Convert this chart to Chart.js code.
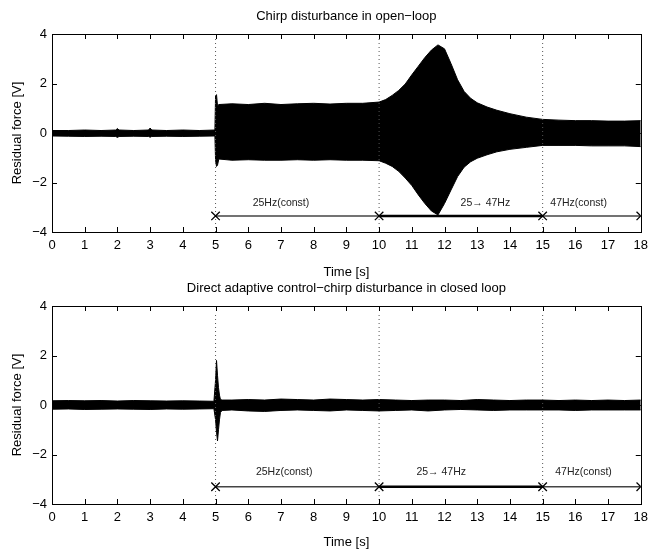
<!DOCTYPE html>
<html>
<head>
<meta charset="utf-8">
<script src="https://cdn.jsdelivr.net/npm/chart.js@4.4.1/dist/chart.umd.min.js"></script>
<style>
  body { margin: 0; background: #fff; }
  canvas { display: block; }
</style>
</head>
<body>
<canvas id="topChart" width="654" height="280"></canvas>
<canvas id="botChart" width="654" height="270"></canvas>
<script>
// envelope of the residual force signal
const tTop = [0, 0.5, 1, 1.5, 1.95, 2.0, 2.05, 2.5, 2.95, 3.0, 3.05, 3.5, 4, 4.5, 4.98, 5.0, 5.03, 5.06, 5.1, 5.5,
    6, 6.5, 7, 7.5, 8, 8.5, 9, 9.5, 10, 10.2, 10.4, 10.6, 10.8, 11.0, 11.2, 11.4, 11.6, 11.8, 12.0, 12.2,
    12.4, 12.6, 12.8, 13.0, 13.3, 13.6, 14.0, 14.5, 15, 15.5, 16, 16.5, 17, 17.5, 18];
const topUpper = [0.1, 0.1, 0.12, 0.1, 0.12, 0.18, 0.12, 0.1, 0.12, 0.2, 0.12, 0.1, 0.12, 0.1, 0.12, 1.5, 1.55, 1.1, 1.15, 1.18,
    1.15, 1.2, 1.15, 1.18, 1.2, 1.17, 1.2, 1.2, 1.25, 1.35, 1.52, 1.72, 1.98, 2.35, 2.7, 3.05, 3.35, 3.56, 3.4, 2.8,
    2.15, 1.68, 1.4, 1.22, 1.05, 0.92, 0.78, 0.64, 0.55, 0.52, 0.5, 0.5, 0.48, 0.48, 0.5];
const topLower = [-0.12, -0.13, -0.14, -0.13, -0.14, -0.18, -0.14, -0.13, -0.14, -0.17, -0.14, -0.13, -0.14, -0.13, -0.12, -1.1, -1.35, -1.3, -1.05, -1.1,
    -1.08, -1.1, -1.1, -1.08, -1.1, -1.08, -1.1, -1.1, -1.12, -1.22, -1.35, -1.55, -1.82, -2.12, -2.5, -2.85, -3.15, -3.31, -2.85, -2.3,
    -1.76, -1.38, -1.16, -1.02, -0.88, -0.76, -0.66, -0.58, -0.5, -0.5, -0.5, -0.52, -0.52, -0.52, -0.55];

const tBot = [0, 0.5, 1, 1.5, 2, 2.5, 3, 3.5, 4, 4.5, 4.95, 5.0, 5.03, 5.06, 5.09, 5.12, 5.15, 5.2, 5.5, 6,
    6.5, 7, 7.5, 8, 8.5, 9, 9.5, 10, 10.5, 11, 11.5, 12, 12.5, 13, 13.5, 14, 14.5, 15, 15.5, 16,
    16.5, 17, 17.5, 18];
const botUpper = [0.17, 0.18, 0.17, 0.18, 0.16, 0.18, 0.17, 0.16, 0.17, 0.16, 0.15, 1.0, 1.8, 1.2, 0.7, 0.4, 0.22, 0.2, 0.2, 0.22,
    0.2, 0.24, 0.22, 0.2, 0.24, 0.22, 0.2, 0.22, 0.2, 0.18, 0.2, 0.2, 0.18, 0.22, 0.2, 0.18, 0.2, 0.2, 0.18, 0.2,
    0.18, 0.2, 0.18, 0.2];
const botLower = [-0.17, -0.16, -0.18, -0.17, -0.16, -0.17, -0.18, -0.16, -0.17, -0.16, -0.15, -0.6, -1.1, -1.45, -1.0, -0.6, -0.3, -0.22, -0.2, -0.24,
    -0.26, -0.22, -0.2, -0.22, -0.24, -0.2, -0.22, -0.24, -0.22, -0.2, -0.24, -0.2, -0.18, -0.2, -0.22, -0.2, -0.2, -0.2, -0.2, -0.22,
    -0.2, -0.2, -0.2, -0.2];

// phase markers
const phaseTimes = [5, 10, 15, 18];
const dividerTimes = [5, 10, 15];
const phaseLabels = ["25Hz(const)", "25\u2192 47Hz", "47Hz(const)"];
const topLabelTimes = [7.0, 13.25, 16.1];
const botLabelTimes = [7.1, 11.9, 16.25];

const xTicks = [0, 1, 2, 3, 4, 5, 6, 7, 8, 9, 10, 11, 12, 13, 14, 15, 16, 17, 18];
const yTicks = [-4, -2, 0, 2, 4];

const FONT = "'Liberation Sans', Arial, Helvetica, sans-serif";

function pts(xs, ys) { return xs.map((x, i) => ({ x: x, y: ys[i] })); }

// frame, inward ticks, titles and phase labels (MATLAB look)
const matlabDeco = {
    id: "matlabDeco",
    afterDraw(chart, args, opts) {
        const { ctx, chartArea: a, scales } = chart;
        const xs = scales.x, ys = scales.y;
        ctx.save();
        ctx.strokeStyle = "#000";
        ctx.lineWidth = 1;
        ctx.beginPath();
        xTicks.forEach(t => {
            const px = Math.round(xs.getPixelForValue(t)) + 0.5;
            ctx.moveTo(px, a.bottom); ctx.lineTo(px, a.bottom - 5);
            ctx.moveTo(px, a.top); ctx.lineTo(px, a.top + 5);
        });
        yTicks.forEach(v => {
            const py = Math.round(ys.getPixelForValue(v)) + 0.5;
            ctx.moveTo(a.left, py); ctx.lineTo(a.left + 5, py);
            ctx.moveTo(a.right, py); ctx.lineTo(a.right - 5, py);
        });
        ctx.stroke();
        ctx.strokeRect(Math.round(a.left) + 0.5, Math.round(a.top) + 0.5, Math.round(a.right - a.left), Math.round(a.bottom - a.top));

        ctx.fillStyle = "#000";
        ctx.textAlign = "center";
        ctx.textBaseline = "middle";
        ctx.font = "13px " + FONT;
        const cx = (a.left + a.right) / 2;
        ctx.fillText(opts.title, cx, opts.titleY);
        ctx.fillText("Time [s]", cx, opts.xTitleY);
        ctx.save();
        ctx.translate(17, (a.top + a.bottom) / 2);
        ctx.rotate(-Math.PI / 2);
        ctx.fillText("Residual force [V]", 0, 0);
        ctx.restore();

        ctx.font = "10.5px " + FONT;
        ctx.fillStyle = "#222";
        phaseLabels.forEach((s, i) => {
            ctx.fillText(s, xs.getPixelForValue(opts.labelTimes[i]), ys.getPixelForValue(opts.labelLevel));
        });
        ctx.restore();
    }
};

function makeChart(id, t, upper, lower, cfg) {
    const datasets = [
        { data: pts(t, lower), borderColor: "#000", borderWidth: 1, pointRadius: 0, fill: false, order: 5 },
        { data: pts(t, upper), borderColor: "#000", borderWidth: 1, pointRadius: 0, fill: "-1", backgroundColor: "#000", order: 5 }
    ];
    dividerTimes.forEach(d => {
        datasets.push({ data: [{ x: d, y: -4 }, { x: d, y: cfg.dividerTop }], borderColor: "#555", borderWidth: 1,
            borderDash: [1, 3], pointRadius: 0, fill: false, order: 1 });
    });
    const segWidths = [1.5, 2.5, 1.5];
    const segColors = ["#444", "#000", "#444"];
    for (let i = 0; i < 3; i++) {
        datasets.push({ data: [{ x: phaseTimes[i], y: cfg.level }, { x: phaseTimes[i + 1], y: cfg.level }],
            borderColor: segColors[i], borderWidth: segWidths[i], pointRadius: 0, fill: false, order: 1 });
    }
    datasets.push({ data: phaseTimes.map(x => ({ x: x, y: cfg.level })), showLine: false, pointStyle: "crossRot",
        pointRadius: 6, borderColor: "#000", borderWidth: 1.3, order: 0 });

    return new Chart(document.getElementById(id), {
        type: "line",
        data: { datasets: datasets },
        options: {
            responsive: false,
            animation: false,
            layout: { padding: { top: cfg.padTop, right: 7, left: 0, bottom: 0 } },
            plugins: {
                legend: { display: false },
                tooltip: { enabled: false },
                matlabDeco: { title: cfg.title, titleY: cfg.titleY, xTitleY: cfg.xTitleY, labelTimes: cfg.labelTimes, labelLevel: cfg.labelLevel }
            },
            scales: {
                x: {
                    type: "linear", min: 0, max: 18,
                    grid: { display: false, drawTicks: false },
                    border: { display: false },
                    afterBuildTicks: s => { s.ticks = xTicks.map(v => ({ value: v })); },
                    afterFit: s => { s.height = cfg.xHeight; },
                    ticks: { color: "#000", padding: 6, maxRotation: 0, autoSkip: false, font: { size: 13, family: FONT } }
                },
                y: {
                    min: -4, max: 4,
                    grid: { display: false, drawTicks: false },
                    border: { display: false },
                    afterBuildTicks: s => { s.ticks = yTicks.map(v => ({ value: v })); },
                    afterFit: s => { s.width = 52; },
                    ticks: { color: "#000", padding: 5, font: { size: 13, family: FONT },
                        callback: v => String(v).replace("-", "\u2212") }
                }
            }
        },
        plugins: [matlabDeco]
    });
}

makeChart("topChart", tTop, topUpper, topLower, {
    title: "Chirp disturbance in open\u2212loop", titleY: 16, xTitleY: 272,
    padTop: 34, xHeight: 48, dividerTop: 3.8, level: -3.35,
    labelTimes: topLabelTimes, labelLevel: -2.83
});
makeChart("botChart", tBot, botUpper, botLower, {
    title: "Direct adaptive control\u2212chirp disturbance in closed loop", titleY: 8, xTitleY: 262,
    padTop: 26, xHeight: 46, dividerTop: 3.7, level: -3.3,
    labelTimes: botLabelTimes, labelLevel: -2.7
});
</script>
</body>
</html>
